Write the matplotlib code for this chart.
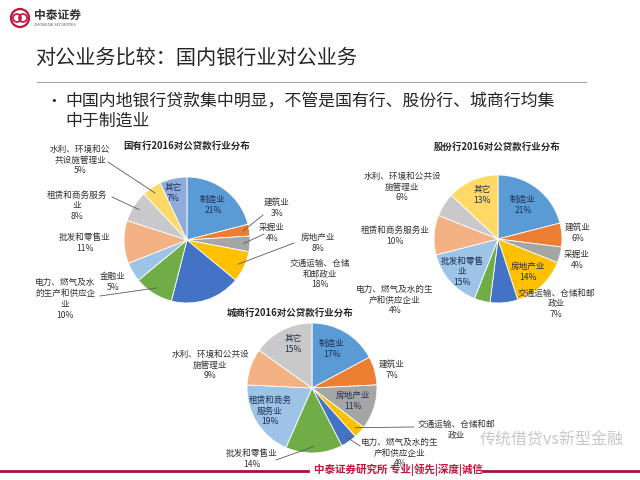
import numpy as np
import matplotlib.pyplot as plt
from matplotlib.patches import Circle

plt.rcParams['font.family'] = ['Noto Sans CJK SC', 'DejaVu Sans']

# Data
state_labels = ['制造业', '建筑业', '采掘业', '房地产业', '交通运输、仓储和邮政业',
                '电力、燃气及水的生产和供应企业', '金融业', '批发和零售业',
                '租赁和商务服务业', '水利、环境和公共设施管理业', '其它']
state_values = [21, 3, 4, 8, 18, 10, 5, 11, 8, 5, 7]

joint_labels = ['制造业', '建筑业', '采掘业', '房地产业', '交通运输、仓储和邮政业',
                '电力、燃气及水的生产和供应企业', '批发和零售业',
                '租赁和商务服务业', '水利、环境和公共设施管理业', '其它']
joint_values = [21, 6, 4, 14, 7, 4, 15, 10, 6, 13]

city_labels = ['制造业', '建筑业', '房地产业', '交通运输、仓储和邮政业',
               '电力、燃气及水的生产和供应企业', '批发和零售业',
               '租赁和商务服务业', '水利、环境和公共设施管理业', '其它']
city_values = [17, 7, 11, 3, 4, 14, 19, 9, 15]

palette = ['#5B9BD5', '#ED7D31', '#A5A5A5', '#FFC000', '#4472C4', '#70AD47',
           '#9DC3E6', '#F4B183', '#C9C9C9', '#FFD966', '#8FAADC']

W, H = 640, 480


def Y(y):
    # image rows (top-down) -> plot y (bottom-up)
    return H - y


fig = plt.figure(figsize=(6.4, 4.8), dpi=100)
ax = fig.add_axes([0, 0, 1, 1])

# header
ax.add_patch(Circle((20, Y(18)), 9, fill=False, ec='#C0143C', lw=1.6))
ax.add_patch(Circle((17, Y(18)), 4, fill=False, ec='#C0143C', lw=1.2))
ax.add_patch(Circle((23, Y(18)), 4, fill=False, ec='#C0143C', lw=1.2))
ax.text(34, Y(15), '中泰证券', fontsize=8.5, fontweight='bold', color='#333333', va='center')
ax.text(34, Y(25), 'ZHONGTAI SECURITIES', fontsize=2.8, color='#555555', va='center')
ax.text(35, Y(58), '对公业务比较：国内银行业对公业务', fontsize=14.5, color='#262626', va='center')
ax.plot([37, 586], [Y(82), Y(82)], color='#a6a6a6', lw=0.8)
ax.text(45, Y(101), '•', fontsize=12, color='#262626', va='center')
ax.text(65, Y(101), '中国内地银行贷款集中明显，不管是国有行、股份行、城商行均集',
        fontsize=12.2, color='#262626', va='center')
ax.text(65, Y(121), '中于制造业', fontsize=12.2, color='#262626', va='center')

# pies: center, radius, title position, label positions, leader ends
pies = [
    dict(values=state_values, center=(187, 240), r=63,
         title='国有行2016对公贷款行业分布', title_xy=(187, 146),
         texts=[('制造业\n21%', 213, 205, True), ('建筑业\n3%', 277, 208, False),
                ('采掘业\n4%', 272, 233, False), ('房地产业\n8%', 318, 243, False),
                ('交通运输、仓储\n和邮政业\n18%', 320, 274, False),
                ('电力、燃气及水\n的生产和供应企\n业\n10%', 65, 299, False),
                ('金融业\n5%', 113, 282, False), ('批发和零售业\n11%', 85, 243, False),
                ('租赁和商务服务\n业\n8%', 77, 206, False),
                ('水利、环境和公\n共设施管理业\n5%', 80, 160, False),
                ('其它\n7%', 173, 193, True)],
         leaders=[(1, 263, 215), (2, 264, 234), (3, 294, 243), (5, 100, 296),
                  (8, 112, 197), (9, 108, 162)]),
    dict(values=joint_values, center=(498, 239), r=64,
         title='股份行2016对公贷款行业分布', title_xy=(497, 147),
         texts=[('制造业\n21%', 523, 205, True), ('建筑业\n6%', 578, 233, False),
                ('采掘业\n4%', 577, 260, False), ('房地产业\n14%', 528, 272, True),
                ('交通运输、仓储和邮\n政业\n7%', 556, 304, False),
                ('电力、燃气及水的生\n产和供应企业\n4%', 395, 300, False),
                ('批发和零售\n业\n15%', 462, 272, True),
                ('租赁和商务服务业\n10%', 395, 236, False),
                ('水利、环境和公共设\n施管理业\n6%', 402, 187, False),
                ('其它\n13%', 482, 195, True)],
         leaders=[]),
    dict(values=city_values, center=(312, 388), r=65,
         title='城商行2016对公贷款行业分布', title_xy=(290, 313),
         texts=[('制造业\n17%', 332, 349, True), ('建筑业\n7%', 392, 370, False),
                ('房地产业\n11%', 353, 401, True),
                ('交通运输、仓储和邮\n政业', 456, 430, False),
                ('电力、燃气及水的生\n产和供应企业\n4%', 400, 453, False),
                ('批发和零售业\n14%', 252, 459, False),
                ('租赁和商务\n服务业\n19%', 270, 411, True),
                ('水利、环境和公共设\n施管理业\n9%', 210, 365, False),
                ('其它\n15%', 293, 344, True)],
         leaders=[(3, 414, 427), (4, 360, 446), (5, 276, 460)]),
]

for p in pies:
    cx, cy = p['center']
    wedges, _ = ax.pie(p['values'], colors=palette[:len(p['values'])],
                       startangle=90, counterclock=False,
                       center=(cx, Y(cy)), radius=p['r'],
                       wedgeprops=dict(edgecolor='white', linewidth=0.6))
    ax.text(p['title_xy'][0], Y(p['title_xy'][1]), p['title'], fontsize=6.8,
            fontweight='bold', color='#262626', ha='center', va='center')
    for txt, tx, ty, inside in p['texts']:
        ax.text(tx, Y(ty), txt, fontsize=6.2, ha='center', va='center',
                color='#1f3050' if inside else '#333333', linespacing=1.25)
    for idx, ex, ey in p['leaders']:
        w = wedges[idx]
        mid = np.deg2rad((w.theta1 + w.theta2) / 2)
        sx = cx + 0.9 * p['r'] * np.cos(mid)
        sy = Y(cy) + 0.9 * p['r'] * np.sin(mid)
        ax.plot([sx, ex], [sy, Y(ey)], color='#595959', lw=0.6)

# watermark and footer
ax.text(480, Y(440), '传统借贷vs新型金融', fontsize=11.5, color='#c8c8c8', va='center')
ax.plot([0, 308], [Y(471), Y(471)], color='#A3133A', lw=2)
ax.plot([483, 640], [Y(471), Y(471)], color='#A3133A', lw=2)
ax.text(314, Y(470), '中泰证券研究所 专业|领先|深度|诚信', fontsize=7.6,
        fontweight='bold', color='#C0143C', va='center')

ax.set_xlim(0, W)
ax.set_ylim(0, H)
ax.set_aspect('equal')
ax.axis('off')

fig.savefig('out.png', dpi=100)
